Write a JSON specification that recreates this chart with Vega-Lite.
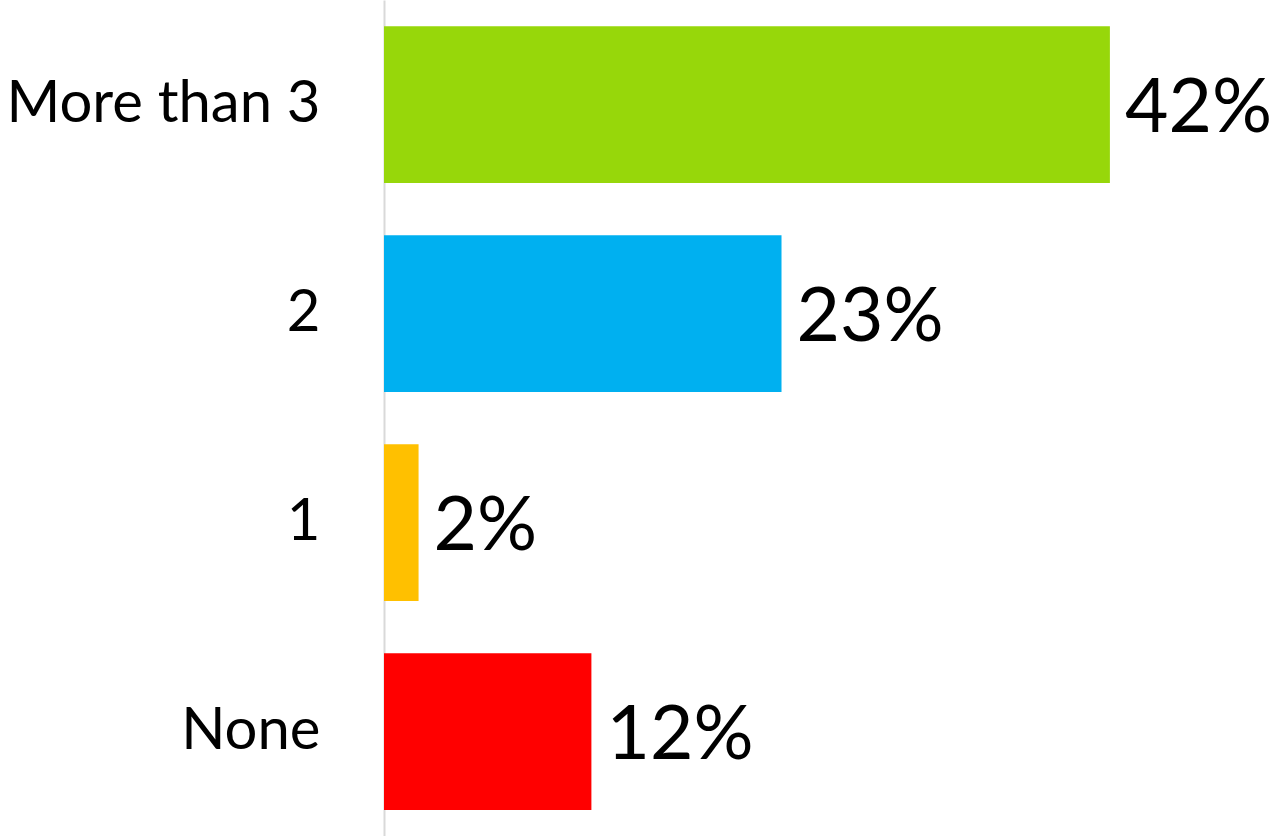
{
  "$schema": "https://vega.github.io/schema/vega-lite/v6.json",
  "autosize": {"type": "none"},
  "padding": {"left": 384, "top": 0, "right": 0, "bottom": 0},
  "width": 897,
  "height": 836,
  "background": "white",
  "config": {"view": {"stroke": null}},
  "data": {
    "values": [
      {"category": "More than 3", "value": 0.42, "label": "42%", "color": "#97D70A"},
      {"category": "2", "value": 0.23, "label": "23%", "color": "#00B0F0"},
      {"category": "1", "value": 0.02, "label": "2%", "color": "#FFC000"},
      {"category": "None", "value": 0.12, "label": "12%", "color": "#FF0000"}
    ]
  },
  "encoding": {
    "y": {
      "field": "category",
      "type": "nominal",
      "sort": null,
      "scale": {"paddingInner": 0.25, "paddingOuter": 0.125},
      "axis": {
        "title": null,
        "ticks": false,
        "domainColor": "#d9d9d9",
        "domainWidth": 2,
        "labelFont": "Lato",
        "labelFontSize": 58,
        "labelColor": "#000000",
        "labelPadding": 64,
        "labelLimit": 400
      }
    },
    "x": {
      "field": "value",
      "type": "quantitative",
      "scale": {"domain": [0, 0.519], "nice": false, "zero": true},
      "axis": null
    }
  },
  "layer": [
    {
      "mark": {"type": "bar"},
      "encoding": {
        "color": {"field": "color", "type": "nominal", "scale": null}
      }
    },
    {
      "mark": {"type": "text", "align": "left", "baseline": "middle", "dx": 15, "dy": 4, "font": "Lato", "fontSize": 75, "color": "#000000"},
      "encoding": {
        "text": {"field": "label"}
      }
    }
  ]
}
